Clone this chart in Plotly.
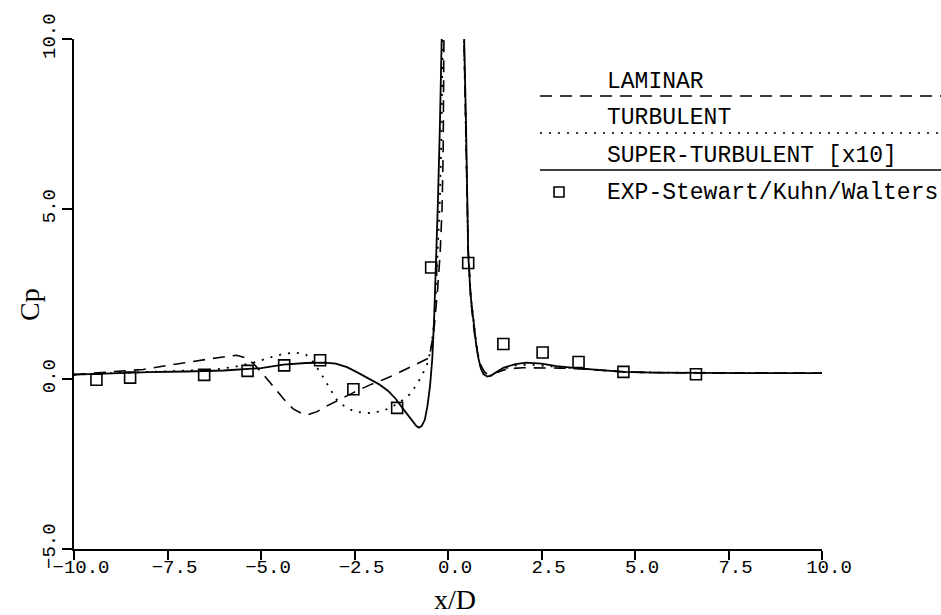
import plotly.graph_objects as go

# ---------------- data ----------------
lam_x = [-10.0, -9.0, -8.15, -7.5, -6.8, -6.2, -5.65, -5.4, -5.2, -4.95, -4.67, -4.4, -4.14,
         -3.9, -3.74, -3.5, -3.25, -2.9, -2.53, -2.1, -1.64, -1.2, -0.75, -0.5, -0.38, -0.28,
         -0.21, -0.16, -0.13, -0.12, -0.10, 0.40, 0.43, 0.48, 0.54, 0.62, 0.70, 0.80, 0.88,
         0.98, 1.08, 1.3, 1.6, 2.0, 2.5, 3.0, 3.5, 4.0, 4.7, 5.5, 7.0, 8.5, 10.0]
lam_y = [0.13, 0.20, 0.28, 0.40, 0.53, 0.62, 0.70, 0.62, 0.45, 0.15, -0.22, -0.58, -0.88,
         -1.02, -1.05, -0.96, -0.80, -0.60, -0.40, -0.18, 0.02, 0.25, 0.48, 0.62, 1.4, 2.6,
         3.7, 5.0, 6.6, 8.5, 11.5, 11.5, 10.0, 7.6, 3.8, 2.2, 1.4, 0.7, 0.4,
         0.2, 0.12, 0.2, 0.3, 0.33, 0.33, 0.32, 0.30, 0.26, 0.21, 0.19, 0.17, 0.18, 0.17]

turb_x = [-10.0, -9.0, -8.0, -7.7, -7.0, -6.2, -5.7, -5.2, -4.8, -4.4, -4.1, -3.8, -3.6,
          -3.45, -3.33, -3.15, -2.98, -2.75, -2.53, -2.3, -2.09, -1.85, -1.64, -1.3, -1.02,
          -0.8, -0.57, -0.45, -0.38, -0.32, -0.27, -0.22, -0.18, -0.15, -0.12, 0.40, 0.43,
          0.48, 0.54, 0.62, 0.70, 0.78, 0.86, 0.95, 1.05, 1.2, 1.5, 1.8, 2.2, 2.7, 3.3, 4.0,
          4.7, 5.5, 7.0, 10.0]
turb_y = [0.13, 0.17, 0.19, 0.20, 0.23, 0.28, 0.36, 0.48, 0.62, 0.74, 0.78, 0.72, 0.50,
          0.25, 0.04, -0.30, -0.60, -0.82, -0.94, -0.99, -1.00, -0.96, -0.89, -0.70, -0.45,
          -0.10, 0.38, 0.90, 1.6, 2.6, 3.8, 5.2, 7.0, 9.0, 11.5, 11.5, 10.0,
          7.6, 3.7, 2.3, 1.5, 0.85, 0.40, 0.15, 0.07, 0.12, 0.30, 0.40, 0.42, 0.38, 0.32, 0.26,
          0.21, 0.19, 0.18, 0.17]

sup_x = [-10.0, -9.0, -8.0, -7.0, -6.0, -5.0, -4.4, -3.8, -3.3, -3.0, -2.7, -2.4, -2.1,
         -1.85, -1.6, -1.4, -1.2, -1.0, -0.85, -0.78, -0.70, -0.62, -0.55, -0.48, -0.42,
         -0.37, -0.32, -0.27, -0.22, -0.18, -0.14, 0.38, 0.43, 0.48, 0.54, 0.60, 0.68, 0.75,
         0.81, 0.88, 0.95, 1.05, 1.15, 1.3, 1.48, 1.8, 2.1, 2.5, 2.9, 3.5, 4.0, 4.7, 5.5,
         6.5, 8.0, 10.0]
sup_y = [0.13, 0.17, 0.20, 0.22, 0.25, 0.32, 0.42, 0.47, 0.48, 0.45, 0.35, 0.18, 0.0,
         -0.15, -0.35, -0.58, -0.88, -1.17, -1.38, -1.43, -1.38, -1.20, -0.80, -0.20, 0.60,
         1.8, 3.3, 5.2, 7.3, 9.3, 11.5, 11.5, 10.1, 7.6, 3.7, 2.5, 1.7, 1.05,
         0.63, 0.30, 0.14, 0.07, 0.10, 0.20, 0.33, 0.44, 0.48, 0.45, 0.38, 0.31, 0.26, 0.21,
         0.19, 0.18, 0.17, 0.17]

exp_x = [-9.4, -8.5, -6.52, -5.36, -4.38, -3.42, -2.53, -1.36, -0.45, 0.54, 1.48, 2.53,
         3.49, 4.69, 6.63]
exp_y = [-0.02, 0.04, 0.12, 0.24, 0.40, 0.55, -0.30, -0.85, 3.28, 3.41, 1.03, 0.78,
         0.50, 0.21, 0.14]

x_ticks = [-10.0, -7.5, -5.0, -2.5, 0.0, 2.5, 5.0, 7.5, 10.0]
y_ticks = [-5.0, 0.0, 5.0, 10.0]

legend_labels = ["LAMINAR", "TURBULENT", "SUPER-TURBULENT [x10]", "EXP-Stewart/Kuhn/Walters"]

# ---------------- geometry ----------------
W, H = 941, 615
L, R, T, B = 74, 822, 39, 549   # plot area in pixels
TICK_FONT = dict(family="Liberation Mono", size=19, color="black")


def px(xp):
    return (xp - L) / (R - L)


def py(yp):
    return (B - yp) / (B - T)


fig = go.Figure()
fig.add_trace(go.Scatter(x=lam_x, y=lam_y, mode="lines", name=legend_labels[0],
                         line=dict(color="black", width=1.6, dash="12px,8px")))
fig.add_trace(go.Scatter(x=turb_x, y=turb_y, mode="lines", name=legend_labels[1],
                         line=dict(color="black", width=1.8, dash="2px,7px")))
fig.add_trace(go.Scatter(x=sup_x, y=sup_y, mode="lines", name=legend_labels[2],
                         line=dict(color="black", width=1.8)))
fig.add_trace(go.Scatter(x=exp_x, y=exp_y, mode="markers", name=legend_labels[3],
                         marker=dict(symbol="square-open", size=11, color="black",
                                     line=dict(width=1.6, color="black"))))

# ---------------- custom legend ----------------
text_y = [82, 118, 156, 193]
line_y = [96, 133, 170]
dashes = ["12px,8px", "2px,7px", "solid"]
for i, lab in enumerate(legend_labels):
    fig.add_annotation(x=px(605), y=py(text_y[i]), xref="paper", yref="paper",
                       text=lab, showarrow=False, xanchor="left", yanchor="middle",
                       font=dict(family="Liberation Mono", size=23, color="black"))
for i in range(3):
    fig.add_shape(type="line", xref="paper", yref="paper",
                  x0=px(540), x1=px(941), y0=py(line_y[i]), y1=py(line_y[i]),
                  line=dict(color="black", width=1.6, dash=dashes[i]))
fig.add_shape(type="rect", xref="paper", yref="paper",
              x0=px(554), x1=px(564), y0=py(197), y1=py(187),
              line=dict(color="black", width=1.6))

# ---------------- axis titles ----------------
fig.add_annotation(x=px(455), y=py(599), xref="paper", yref="paper", text="x/D",
                   showarrow=False, xanchor="center", yanchor="middle",
                   font=dict(family="Liberation Serif", size=28, color="black"))
fig.add_annotation(x=px(30), y=py(305), xref="paper", yref="paper", text="Cp",
                   showarrow=False, xanchor="center", yanchor="middle", textangle=-90,
                   font=dict(family="Liberation Serif", size=28, color="black"))

fig.update_layout(
    width=W, height=H,
    margin=dict(l=L, r=W - R, t=T, b=H - B, pad=0),
    paper_bgcolor="white", plot_bgcolor="white",
    showlegend=False,
    xaxis=dict(range=[-10, 10], tickvals=x_ticks, tickformat=".1f",
               showline=True, linecolor="black", linewidth=1.5,
               ticks="outside", ticklen=9, tickwidth=1.5, tickcolor="black",
               ticklabelstandoff=-10, ticklabelshift=7,
               showgrid=False, zeroline=False, tickfont=TICK_FONT),
    yaxis=dict(range=[-5, 10], tickvals=y_ticks, tickformat=".1f", tickangle=-90,
               showline=True, linecolor="black", linewidth=1.5,
               ticks="outside", ticklen=10, tickwidth=1.5, tickcolor="black",
               showgrid=False, zeroline=False, tickfont=TICK_FONT),
)

fig.write_html("out.html", config={"displayModeBar": False},
               post_script="document.body.style.margin='0';")
